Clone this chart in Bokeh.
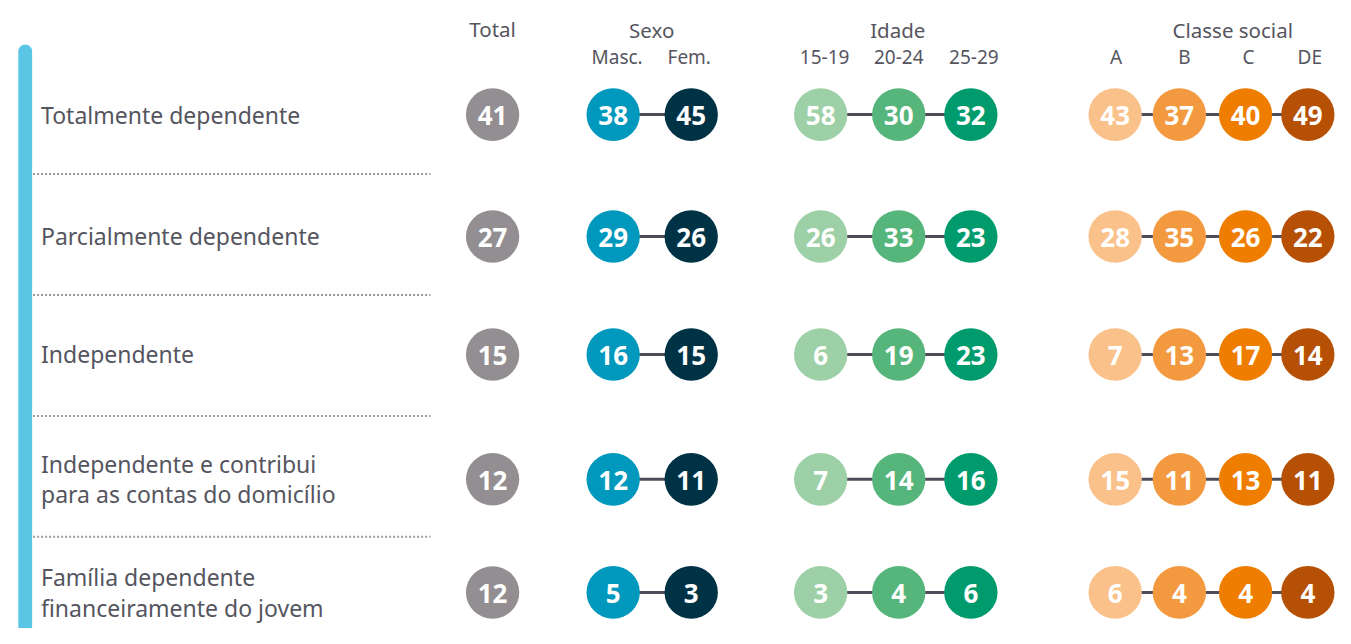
from bokeh.plotting import figure
from bokeh.models import Range1d, ColumnDataSource
from bokeh.core.properties import value
from bokeh.embed import file_html
from bokeh.resources import INLINE

# ---------------- data ----------------
row_labels = [
    "Totalmente dependente",
    "Parcialmente dependente",
    "Independente",
    "Independente e contribui\npara as contas do domicílio",
    "Família dependente\nfinanceiramente do jovem",
]
groups = ["Total", "Sexo", "Idade", "Classe social"]
sub_labels = ["", "Masc.", "Fem.", "15-19", "20-24", "25-29", "A", "B", "C", "DE"]

total = [41, 27, 15, 12, 12]
masc = [38, 29, 16, 12, 5]
fem = [45, 26, 15, 11, 3]
age_15_19 = [58, 26, 6, 7, 3]
age_20_24 = [30, 33, 19, 14, 4]
age_25_29 = [32, 23, 23, 16, 6]
class_a = [43, 28, 7, 15, 6]
class_b = [37, 35, 13, 11, 4]
class_c = [40, 26, 17, 13, 4]
class_de = [49, 22, 14, 11, 4]

series = [total, masc, fem, age_15_19, age_20_24, age_25_29,
          class_a, class_b, class_c, class_de]

# ---------------- layout / style ----------------
W, H = 1335, 628          # pixel size of the figure
VW, VH = 1351, 644        # design coordinate space
col_x = [498, 620, 699, 830, 909, 982, 1128, 1193, 1260, 1323]
sub_x = [498, 624, 697, 834, 909, 985, 1129, 1198, 1263, 1325]
group_x = [498, 659, 908, 1247]
group_members = [[0], [1, 2], [3, 4, 5], [6, 7, 8, 9]]
row_y = [117, 242, 363, 491, 607]
sep_y = [178, 302, 426, 550]
colors = ["#928e91", "#0098bc", "#003246", "#9dd0a6", "#56b57a", "#009b6c",
          "#fac18b", "#f39a41", "#ef7d00", "#b65005"]
txt_col = "#55555f"
FONT = "Noto Sans"

p = figure(width=W, height=H, output_backend="svg", toolbar_location=None,
           x_range=Range1d(0, VW), y_range=Range1d(VH, 0),
           x_axis_location=None, y_axis_location=None, min_border=0)
p.grid.visible = False
p.outline_line_color = None
p.background_fill_color = "white"

# blue side bar
p.quad(left=[18], right=[32], top=[45], bottom=[VH + 20], fill_color="#5bc5e5",
       line_color=None, border_radius=7)

# separators
for y in sep_y:
    p.line([33, 435], [y, y], line_color="#9a9a9a", line_width=2, line_dash="2 2")

# row labels
lx, ly, lt = [], [], []
for lab, y in zip(row_labels, row_y):
    lines = lab.split("\n")
    n = len(lines)
    for i, ln in enumerate(lines):
        lx.append(41)
        ly.append(y + (i - (n - 1) / 2) * 31)
        lt.append(ln)
p.text(x=lx, y=ly, text=lt, text_font=value(FONT), text_font_size="23px",
       text_color=txt_col, text_align="left", text_baseline="middle")

# headers
p.text(x=group_x, y=[29, 30, 30, 30], text=groups, text_font=value(FONT),
       text_font_size="20.5px", text_color=txt_col, text_align="center",
       text_baseline="middle")
p.text(x=sub_x[1:], y=[58] * 9, text=sub_labels[1:], text_font=value(FONT),
       text_font_size="19px", text_color=txt_col, text_align="center",
       text_baseline="middle")

# connectors
for mem in group_members:
    if len(mem) < 2:
        continue
    for y in row_y:
        p.line([col_x[mem[0]], col_x[mem[-1]]], [y, y], line_color="#4d4d5a",
               line_width=3)

# circles and values
cx, cy, cc, ct = [], [], [], []
for j, vals in enumerate(series):
    for i, v in enumerate(vals):
        cx.append(col_x[j])
        cy.append(row_y[i])
        cc.append(colors[j])
        ct.append(str(v))
src = ColumnDataSource(dict(x=cx, y=cy, c=cc, t=ct))
p.ellipse(x="x", y="y", width=54, height=54, fill_color="c", line_color=None, source=src)
p.text(x="x", y="y", text="t", source=src, text_font=value(FONT),
       text_font_size="26px", text_font_style="bold", text_color="white",
       text_align="center", text_baseline="middle", y_offset=1)

open("out.html", "w").write(file_html(p, INLINE))
